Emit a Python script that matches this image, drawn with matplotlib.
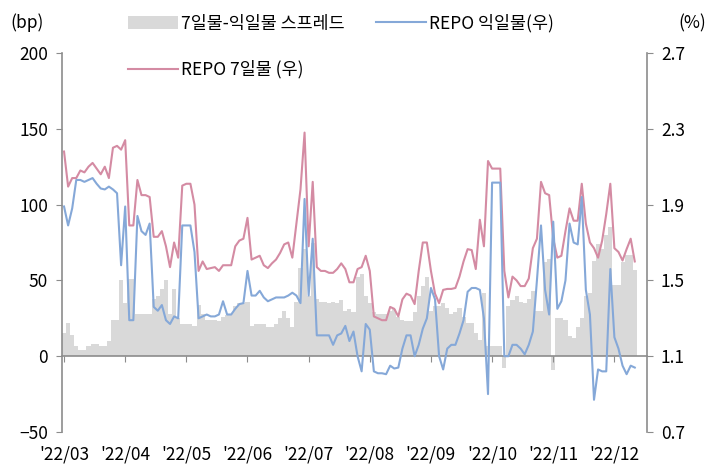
import matplotlib
matplotlib.use('Agg')
import matplotlib.pyplot as plt
import numpy as np

plt.rcParams['font.family'] = ['Noto Sans CJK KR', 'DejaVu Sans']
plt.rcParams['font.weight'] = 'light'

# 월 라벨 (15영업일 간격 눈금)
month_labels = ["'22/03", "'22/04", "'22/05", "'22/06", "'22/07",
                "'22/08", "'22/09", "'22/10", "'22/11", "'22/12"]

# 7일물-익일물 스프레드 (bp, 좌축)
spread_bp = [
    15, 22, 14, 7, 4, 4, 7, 8, 8, 7, 7, 10, 24, 24, 50, 35, 51, 51, 28, 28,
    28, 28, 38, 40, 44, 50, 28, 44, 25, 21, 21, 21, 20, 34, 28, 24, 24, 24, 23, 26,
    27, 28, 33, 35, 35, 36, 20, 21, 21, 21, 19, 19, 21, 25, 30, 25, 19, 36, 58, 71,
    40, 75, 38, 36, 36, 35, 36, 35, 37, 30, 31, 29, 52, 54, 40, 35, 29, 28, 28, 28,
    30, 31, 26, 24, 23, 23, 29, 40, 46, 52, 30, 33, 33, 35, 32, 28, 29, 32, 26, 22,
    22, 15, 11, 42, 7, 7, 7, 7, -8, 33, 37, 40, 36, 35, 38, 43, 30, 30, 62, 64,
    -9, 25, 25, 24, 13, 12, 19, 25, 40, 42, 63, 74, 71, 80, 85, 47, 47, 62, 67, 67,
    57,
]

# REPO 익일물 (%, 우축)
repo_1d = [
    1.89, 1.79, 1.88, 2.03, 2.03, 2.02, 2.03, 2.04, 2.01, 1.985, 1.98, 1.995, 1.98, 1.96, 1.58, 1.89, 1.29, 1.29, 1.84, 1.76,
    1.74, 1.80, 1.36, 1.34, 1.37, 1.29, 1.27, 1.31, 1.30, 1.79, 1.79, 1.79, 1.65, 1.30, 1.31, 1.32, 1.31, 1.31, 1.32, 1.39,
    1.32, 1.32, 1.35, 1.375, 1.38, 1.55, 1.42, 1.42, 1.445, 1.41, 1.39, 1.40, 1.41, 1.41, 1.41, 1.42, 1.435, 1.42, 1.38, 1.93,
    1.42, 1.72, 1.21, 1.21, 1.21, 1.21, 1.16, 1.21, 1.22, 1.26, 1.18, 1.23, 1.10, 1.02, 1.27, 1.24, 1.02, 1.01, 1.01, 1.005,
    1.05, 1.035, 1.04, 1.14, 1.21, 1.21, 1.10, 1.16, 1.245, 1.30, 1.46, 1.40, 1.10, 1.03, 1.14, 1.16, 1.16, 1.22, 1.29, 1.44,
    1.46, 1.46, 1.45, 1.30, 0.90, 2.016, 2.016, 2.016, 1.10, 1.10, 1.16, 1.16, 1.14, 1.11, 1.16, 1.23, 1.50, 1.79, 1.45, 1.32,
    1.81, 1.35, 1.39, 1.50, 1.80, 1.70, 1.69, 1.94, 1.45, 1.32, 0.87, 1.03, 1.02, 1.02, 1.56, 1.20, 1.14, 1.05, 1.005, 1.05,
    1.04,
]

# REPO 7일물 (%, 우축)
repo_7d = [
    2.18, 1.995, 2.04, 2.04, 2.08, 2.07, 2.10, 2.12, 2.09, 2.06, 2.10, 2.04, 2.20, 2.21, 2.19, 2.24, 1.79, 1.79, 2.03, 1.95,
    1.95, 1.94, 1.73, 1.73, 1.76, 1.68, 1.57, 1.70, 1.62, 2.00, 2.01, 2.01, 1.90, 1.55, 1.60, 1.56, 1.565, 1.57, 1.55, 1.58,
    1.58, 1.58, 1.68, 1.71, 1.72, 1.83, 1.61, 1.62, 1.63, 1.58, 1.565, 1.59, 1.61, 1.645, 1.69, 1.70, 1.62, 1.80, 1.98, 2.28,
    1.68, 2.02, 1.57, 1.55, 1.55, 1.54, 1.54, 1.56, 1.59, 1.56, 1.49, 1.49, 1.56, 1.57, 1.63, 1.55, 1.31, 1.30, 1.29, 1.29,
    1.36, 1.35, 1.31, 1.40, 1.43, 1.42, 1.375, 1.55, 1.70, 1.70, 1.55, 1.43, 1.38, 1.45, 1.455, 1.455, 1.46, 1.52, 1.60, 1.665,
    1.66, 1.56, 1.82, 1.68, 2.13, 2.09, 2.09, 2.09, 1.55, 1.41, 1.52, 1.50, 1.47, 1.47, 1.51, 1.67, 1.72, 2.02, 1.96, 1.95,
    1.72, 1.62, 1.63, 1.76, 1.88, 1.815, 1.815, 2.01, 1.80, 1.70, 1.67, 1.62, 1.71, 1.85, 2.01, 1.67, 1.65, 1.605, 1.665, 1.72,
    1.60,
]

bar_color = '#d9d9d9'
blue = '#85a8d8'
pink = '#d48ba3'
axis_gray = '#8c8c8c'
fs = 12.5

x = np.arange(len(spread_bp))

fig = plt.figure(figsize=(7.12, 4.72), dpi=100)
ax = fig.add_axes([62 / 712, 1 - 432 / 472, 585 / 712, 379 / 472])
ax2 = ax.twinx()

bars = ax.bar(x, spread_bp, width=1.0, color=bar_color, linewidth=0)
l7, = ax2.plot(x, repo_7d, color=pink, lw=1.5)
l1, = ax2.plot(x, repo_1d, color=blue, lw=1.5)

ax.set_xlim(-0.5, 143.0)
ax.set_ylim(-50, 200)
ax.set_yticks(range(-50, 201, 50))
ax2.set_ylim(0.7, 2.7)
ax2.set_yticks([0.7, 1.1, 1.5, 1.9, 2.3, 2.7])
ax2.set_yticklabels(['0.7', '1.1', '1.5', '1.9', '2.3', '2.7'])

ax.set_xticks(range(0, 15 * len(month_labels), 15))
ax.set_xticklabels(month_labels)

# 축 스타일
ax.spines['top'].set_visible(False)
ax.spines['right'].set_visible(False)
ax.spines['bottom'].set_position(('data', 0))
for s in ['top', 'bottom', 'left']:
    ax2.spines[s].set_visible(False)
for s in [ax.spines['left'], ax.spines['bottom'], ax2.spines['right']]:
    s.set_color(axis_gray)
    s.set_linewidth(1.2)

ax.tick_params(axis='x', length=4, color=axis_gray, pad=60, labelsize=fs)
ax.tick_params(axis='y', length=4, color=axis_gray, pad=6, labelsize=fs)
ax2.tick_params(axis='y', length=4, color=axis_gray, pad=6, labelsize=fs)

fig.text(10 / 712, 1 - 23 / 472, '(bp)', fontsize=fs, ha='left', va='center')
fig.text(706 / 712, 1 - 23 / 472, '(%)', fontsize=fs, ha='right', va='center')

fig.legend([bars, l7, l1],
           ['7일물-익일물 스프레드', 'REPO 7일물 (우)', 'REPO 익일물(우)'],
           ncol=2, loc='upper left', bbox_to_anchor=(128 / 712, 1 - 14 / 472),
           frameon=False, fontsize=fs, handlelength=2.9, handletextpad=0.15,
           columnspacing=1.8, labelspacing=1.6, borderpad=0, borderaxespad=0)

fig.savefig('out.png', dpi=100)
